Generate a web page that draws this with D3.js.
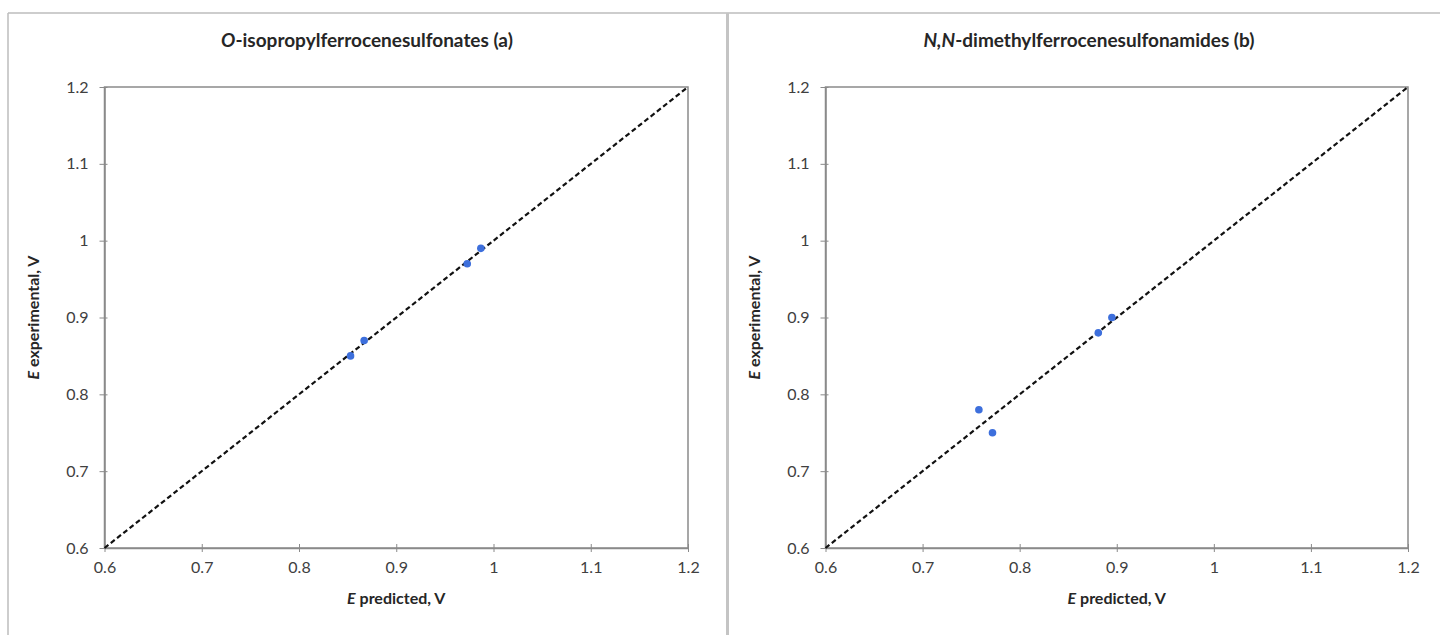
<!DOCTYPE html>
<html>
<head>
<meta charset="utf-8">
<script src="https://cdn.jsdelivr.net/npm/d3@7/dist/d3.min.js"></script>
<style>
html,body{margin:0;padding:0;background:#fff;}
svg{display:block;}
text{font-family:Lato,"Open Sans",sans-serif;fill:#404040;}
</style>
</head>
<body>
<svg id="c" width="1440" height="635"></svg>
<script>
// ---- data ----
const titleA = ["O", "-isopropylferrocenesulfonates (a)"];
const titleB = ["N,N", "-dimethylferrocenesulfonamides (b)"];
const predA = [0.853, 0.867, 0.973, 0.987];
const expA  = [0.850, 0.870, 0.970, 0.990];
const predB = [0.758, 0.772, 0.881, 0.895];
const expB  = [0.780, 0.750, 0.880, 0.900];
const tickValues = [0.6, 0.7, 0.8, 0.9, 1.0, 1.1, 1.2];
const tickLabels = ["0.6", "0.7", "0.8", "0.9", "1", "1.1", "1.2"];
const domain = [0.6, 1.2];
const xTitle = ["E", " predicted, V"];
const yTitle = ["E", " experimental, V"];

const svg = d3.select("#c");

// panel frames
svg.append("line").attr("x1", 8).attr("x2", 1440).attr("y1", 13).attr("y2", 13)
  .attr("stroke", "#bdbdbd").attr("stroke-width", 1.5);
svg.append("line").attr("x1", 8).attr("x2", 8).attr("y1", 13).attr("y2", 635)
  .attr("stroke", "#bdbdbd").attr("stroke-width", 1.5);
svg.append("rect").attr("x", 726).attr("y", 13).attr("width", 3).attr("height", 622)
  .attr("fill", "#c4c4c4");

function panel(cfg) {
  const x = d3.scaleLinear().domain(domain).range([cfg.left, cfg.right]);
  const y = d3.scaleLinear().domain(domain).range([548, 87]);
  const g = svg.append("g");

  // title
  const t = g.append("text").attr("x", cfg.titleX).attr("y", 47)
    .attr("text-anchor", "middle").style("font-size", "19px").style("font-weight", "bold")
    .style("fill", "#262626");
  t.append("tspan").style("font-style", "italic").text(cfg.title[0]);
  t.append("tspan").text(cfg.title[1]);

  // plot border (box)
  g.append("rect").attr("x", cfg.left).attr("y", 87)
    .attr("width", cfg.right - cfg.left).attr("height", 548 - 87)
    .attr("fill", "none").attr("stroke", "#8a8a8a").attr("stroke-width", 1.5);

  // axes with cross ticks
  const xAxis = d3.axisBottom(x).tickValues(tickValues)
    .tickFormat((d, i) => tickLabels[i]).tickSizeInner(4).tickSizeOuter(0).tickPadding(10);
  const gx = g.append("g").attr("transform", "translate(0,548)").call(xAxis);
  gx.select(".domain").attr("stroke", "#8a8a8a").attr("stroke-width", 1.5);
  gx.selectAll(".tick line").attr("y1", -4).attr("stroke", "#8a8a8a");
  gx.selectAll(".tick text").style("font-size", "16px").style("fill", "#404040")
    .style("font-family", "Lato, sans-serif");

  const yAxis = d3.axisLeft(y).tickValues(tickValues)
    .tickFormat((d, i) => tickLabels[i]).tickSizeInner(5).tickSizeOuter(0).tickPadding(11);
  const gy = g.append("g").attr("transform", `translate(${cfg.left},0)`).call(yAxis);
  gy.select(".domain").attr("stroke", "#8a8a8a").attr("stroke-width", 1.5);
  gy.selectAll(".tick line").attr("x1", 3).attr("stroke", "#8a8a8a");
  gy.selectAll(".tick text").style("font-size", "16px").style("fill", "#404040")
    .style("font-family", "Lato, sans-serif");

  // 1:1 dashed line
  g.append("line").attr("x1", x(domain[0])).attr("y1", y(domain[0]))
    .attr("x2", x(domain[1])).attr("y2", y(domain[1]))
    .attr("stroke", "#111").attr("stroke-width", 2.2).attr("stroke-dasharray", "5,3");

  // points
  g.selectAll("circle.pt").data(cfg.pred.map((p, i) => [p, cfg.exp[i]]))
    .enter().append("circle").attr("class", "pt")
    .attr("cx", d => x(d[0])).attr("cy", d => y(d[1])).attr("r", 3.8)
    .attr("fill", "#3d6fdc");

  // axis titles
  const xt = g.append("text").attr("x", (cfg.left + cfg.right) / 2).attr("y", 604)
    .attr("text-anchor", "middle").style("font-size", "16px").style("font-weight", "bold")
    .style("fill", "#262626");
  xt.append("tspan").style("font-style", "italic").text(xTitle[0]);
  xt.append("tspan").text(xTitle[1]);

  const yt = g.append("text")
    .attr("transform", `translate(${cfg.left - 66},317.5) rotate(-90)`)
    .attr("text-anchor", "middle").style("font-size", "16px").style("font-weight", "bold")
    .style("fill", "#262626");
  yt.append("tspan").style("font-style", "italic").text(yTitle[0]);
  yt.append("tspan").text(yTitle[1]);
}

panel({left: 104.5, right: 688, titleX: 367, title: titleA, pred: predA, exp: expA});
panel({left: 825.5, right: 1408, titleX: 1089, title: titleB, pred: predB, exp: expB});
</script>
</body>
</html>
